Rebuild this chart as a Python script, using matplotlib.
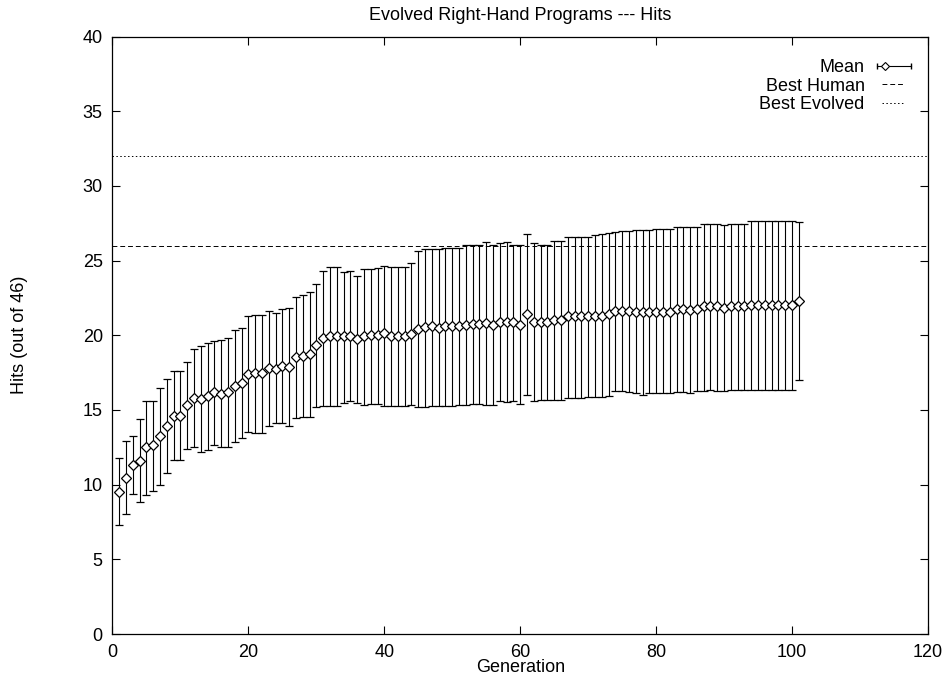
#!/usr/bin/env python3
import numpy as np
import matplotlib
matplotlib.use('Agg')
import matplotlib.pyplot as plt
from matplotlib.lines import Line2D
from matplotlib.legend_handler import HandlerLine2D

plt.rcParams['font.family'] = ['Liberation Sans', 'DejaVu Sans']

generation = np.arange(1, 102)

mean = [9.53, 10.44, 11.30, 11.60, 12.50, 12.64, 13.24, 13.95, 14.60, 14.60,
	15.31, 15.83, 15.74, 15.94, 16.18, 16.09, 16.18, 16.58, 16.81, 17.43,
	17.47, 17.47, 17.81, 17.76, 17.92, 17.87, 18.52, 18.59, 18.76, 19.32,
	19.81, 19.97, 19.97, 19.92, 19.92, 19.74, 19.92, 19.99, 19.99, 20.15,
	19.97, 19.97, 19.97, 20.10, 20.43, 20.55, 20.63, 20.48, 20.59, 20.59,
	20.59, 20.66, 20.75, 20.75, 20.82, 20.66, 20.88, 20.88, 20.88, 20.68,
	21.42, 20.88, 20.88, 20.88, 21.03, 21.03, 21.26, 21.26, 21.26, 21.26,
	21.32, 21.32, 21.44, 21.64, 21.64, 21.64, 21.59, 21.59, 21.59, 21.59,
	21.59, 21.59, 21.75, 21.75, 21.66, 21.75, 21.93, 21.93, 21.93, 21.86,
	21.93, 21.93, 21.93, 22.04, 22.04, 22.04, 22.04, 22.04, 22.04, 22.04,
	22.30]

upper = [11.77, 12.90, 13.29, 14.40, 15.63, 15.63, 16.50, 17.10, 17.58, 17.58,
	18.20, 19.08, 19.25, 19.48, 19.63, 19.70, 19.79, 20.37, 20.48, 21.26,
	21.39, 21.39, 21.64, 21.50, 21.75, 21.86, 22.59, 22.70, 22.93, 23.44,
	24.33, 24.59, 24.59, 24.26, 24.30, 23.97, 24.42, 24.42, 24.49, 24.66,
	24.59, 24.59, 24.59, 24.82, 25.66, 25.76, 25.80, 25.80, 25.86, 25.82,
	25.82, 26.02, 26.06, 26.06, 26.22, 26.04, 26.20, 26.22, 26.06, 26.06,
	26.76, 26.15, 26.06, 26.04, 26.33, 26.33, 26.60, 26.60, 26.60, 26.60,
	26.69, 26.78, 26.87, 26.93, 26.96, 26.96, 27.05, 27.05, 27.05, 27.09,
	27.09, 27.09, 27.22, 27.22, 27.27, 27.22, 27.45, 27.45, 27.45, 27.38,
	27.45, 27.45, 27.45, 27.65, 27.65, 27.65, 27.65, 27.65, 27.65, 27.65,
	27.56]

lower = [7.30, 8.03, 9.35, 8.86, 9.30, 9.60, 9.97, 10.80, 11.62, 11.62,
	12.42, 12.55, 12.20, 12.35, 12.67, 12.55, 12.55, 12.84, 13.13, 13.54,
	13.49, 13.47, 13.96, 14.10, 14.14, 13.91, 14.47, 14.51, 14.54, 15.18,
	15.29, 15.29, 15.29, 15.47, 15.58, 15.47, 15.36, 15.40, 15.40, 15.25,
	15.25, 15.25, 15.25, 15.31, 15.20, 15.20, 15.25, 15.25, 15.25, 15.29,
	15.31, 15.36, 15.38, 15.38, 15.34, 15.34, 15.58, 15.54, 15.62, 15.40,
	15.98, 15.58, 15.69, 15.69, 15.69, 15.69, 15.83, 15.83, 15.83, 15.85,
	15.85, 15.85, 15.91, 16.29, 16.29, 16.23, 16.14, 16.03, 16.14, 16.14,
	16.14, 16.14, 16.21, 16.21, 16.14, 16.25, 16.29, 16.31, 16.29, 16.25,
	16.31, 16.31, 16.31, 16.36, 16.36, 16.36, 16.36, 16.36, 16.36, 16.36,
	17.03]

best_human = 26
best_evolved = 32

dashed = (0, (5, 3))
dotted = (0, (1.5, 2.5))


class HandlerLeftMarker(HandlerLine2D):
	# gnuplot puts the point a bit left of the middle of the sample
	def create_artists(self, legend, orig_handle, xdescent, ydescent,
			width, height, fontsize, trans):
		arts = super().create_artists(legend, orig_handle, xdescent, ydescent,
			width, height, fontsize, trans)
		for a in arts:
			x = np.asarray(a.get_xdata(), dtype=float)
			a.set_xdata([x[0], x[0] + 0.24 * (x[-1] - x[0]), x[-1]])
		return arts


mean = np.array(mean)
yerr = [mean - np.array(lower), np.array(upper) - mean]

fig = plt.figure(figsize=(9.5, 6.83), dpi=100)
ax = fig.add_axes([0.1184, 0.0717, 0.8584, 0.8748])

ax.errorbar(generation, mean, yerr=yerr, fmt='D', color='black', ecolor='black',
	elinewidth=0.8, capsize=3, capthick=0.8, markersize=5.2,
	markerfacecolor='white', markeredgewidth=0.9, zorder=3)
ax.axhline(best_human, color='black', linewidth=0.7, linestyle=dashed)
ax.axhline(best_evolved, color='black', linewidth=0.7, linestyle=dotted)

ax.set_xlim(0, 120)
ax.set_ylim(0, 40)
ax.set_xticks(range(0, 121, 20))
ax.set_yticks(range(0, 41, 5))
ax.tick_params(direction='in', top=True, right=True, length=6, width=0.8,
	labelsize=13, pad=7)
for s in ax.spines.values():
	s.set_linewidth(0.9)

ax.set_title('Evolved Right-Hand Programs --- Hits', fontsize=13, pad=12)
ax.set_xlabel('Generation', fontsize=13)
ax.set_ylabel('Hits (out of 46)', fontsize=13)
ax.xaxis.set_label_coords(0.5, -0.042)
ax.yaxis.set_label_coords(-0.103, 0.5)

# legend proxies, gnuplot style
caps = Line2D([], [], color='black', linewidth=0.8, marker='|', markersize=5)
diamond = Line2D([], [], color='black', linestyle='none', marker='D',
	markersize=3.6, markerfacecolor='white', markeredgewidth=0.8)
human = Line2D([], [], color='black', linewidth=0.7, linestyle=dashed)
evolved = Line2D([], [], color='black', linewidth=0.7, linestyle=dotted)
ax.legend([(caps, diamond), human, evolved], ['Mean', 'Best Human', 'Best Evolved'],
	loc='upper right', bbox_to_anchor=(0.979, 0.962), frameon=False,
	borderpad=0, borderaxespad=0,
	markerfirst=False, fontsize=13, numpoints=2, handlelength=1.9,
	handletextpad=0.66, labelspacing=0.08,
	handler_map={caps: HandlerLine2D(marker_pad=0, numpoints=2),
		diamond: HandlerLeftMarker(numpoints=1)})

plt.savefig('out.png', dpi=100)
